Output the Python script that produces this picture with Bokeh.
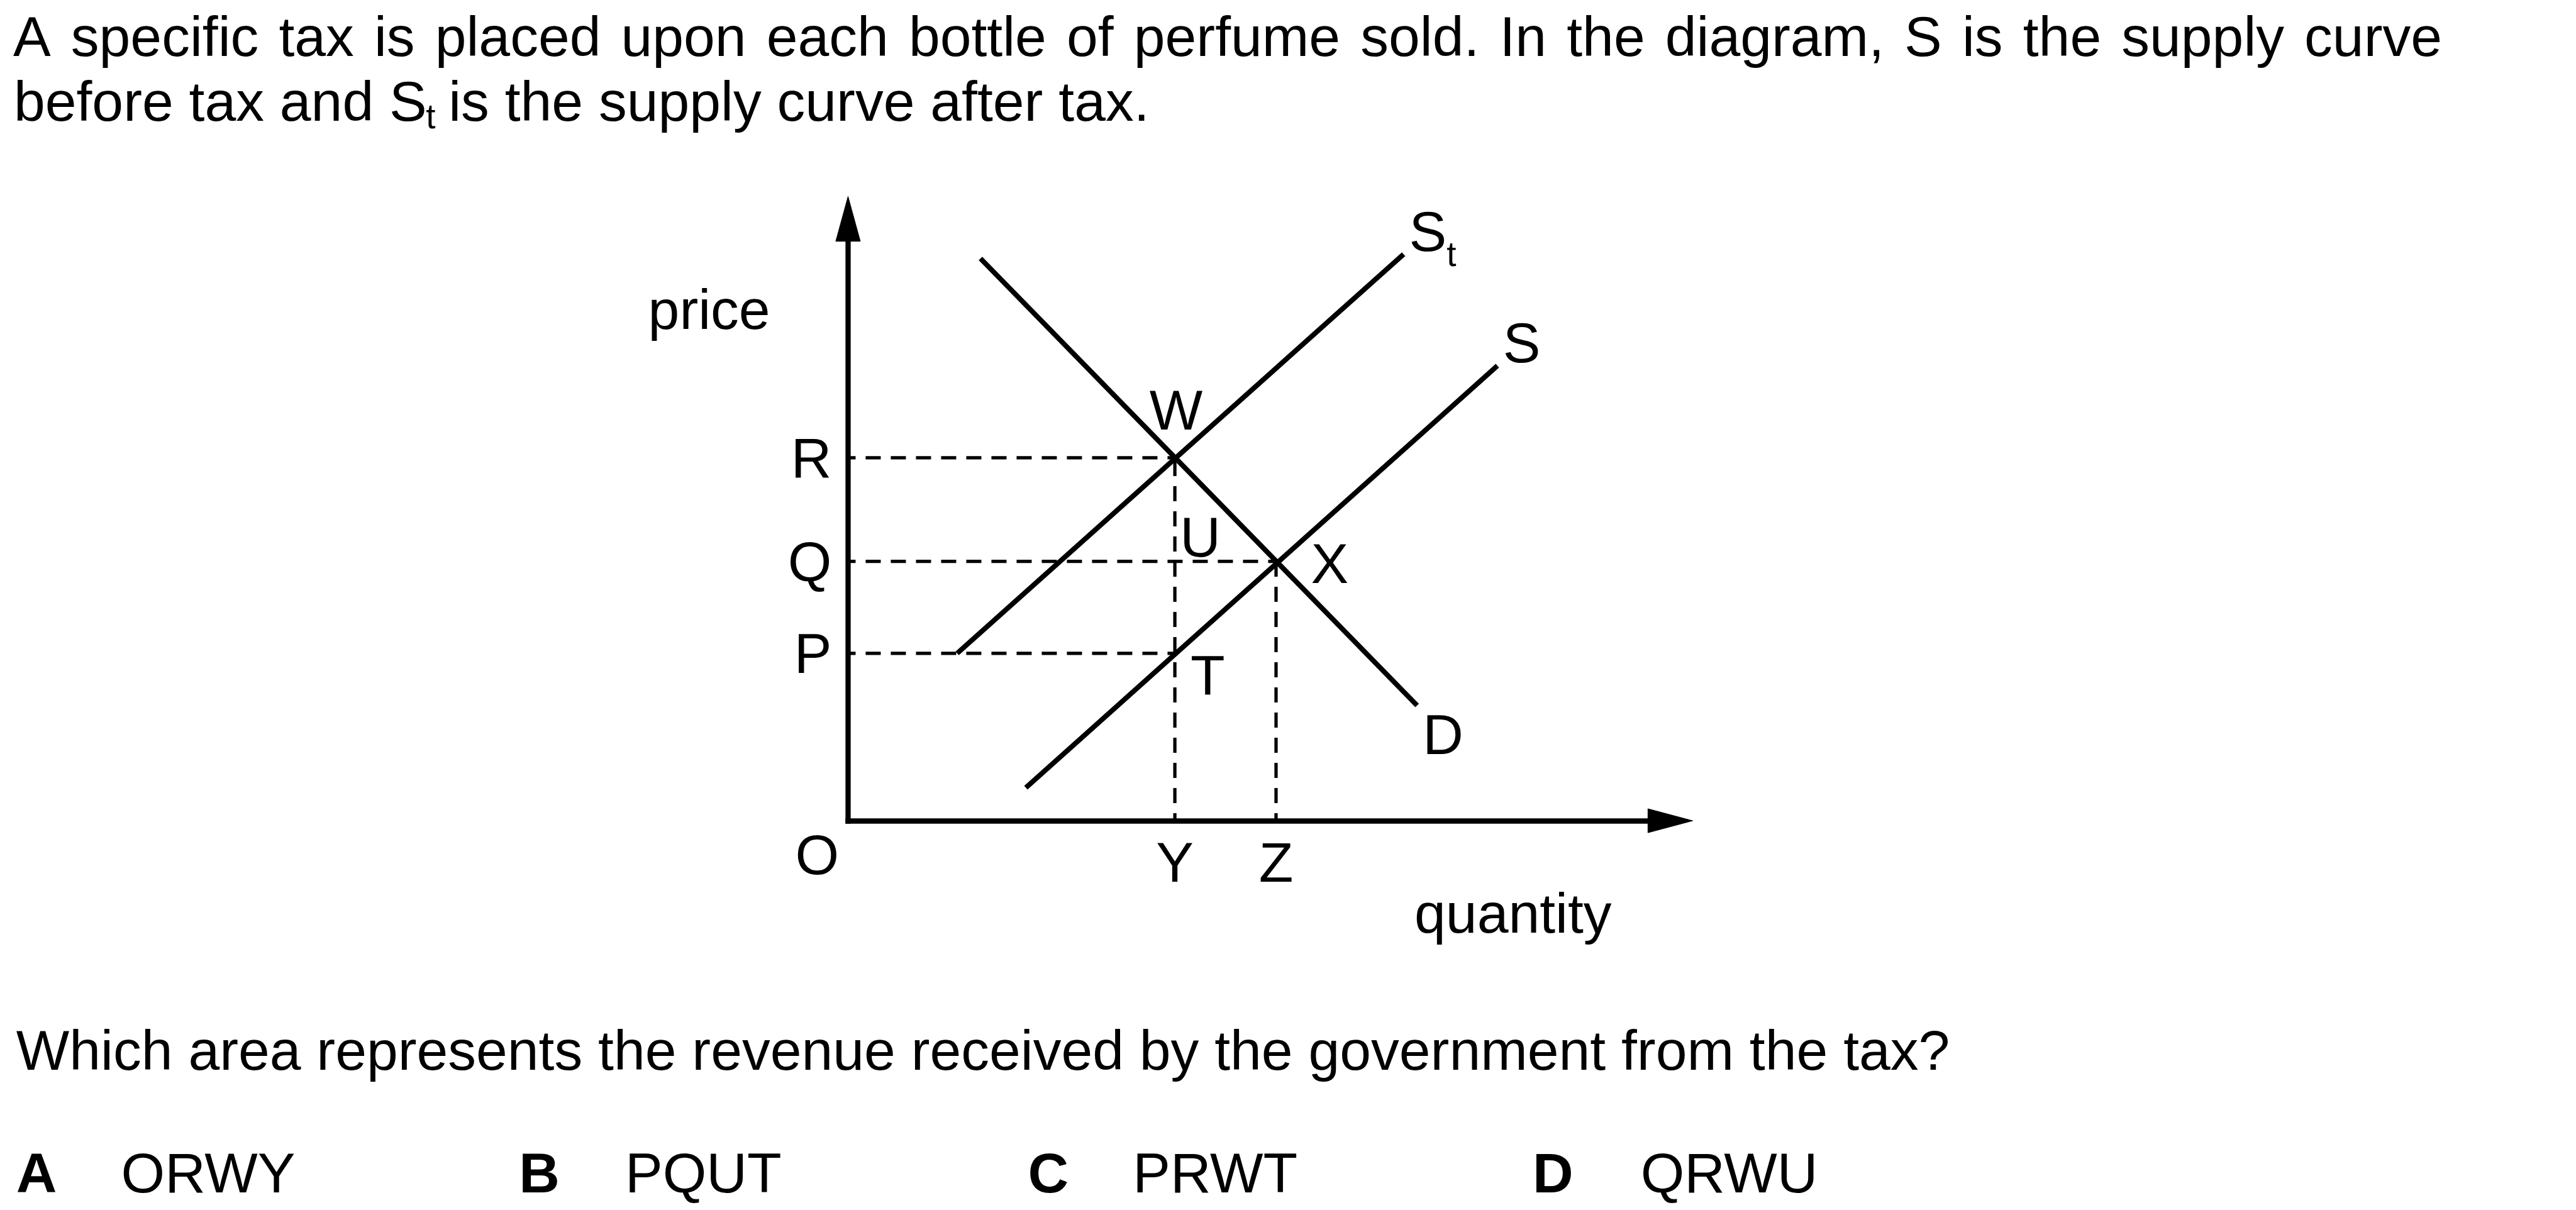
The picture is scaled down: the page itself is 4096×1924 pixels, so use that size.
from bokeh.plotting import figure
from bokeh.models import Range1d, LinearAxis, FixedTicker, ColumnDataSource
from bokeh.core.properties import value
from bokeh.embed import file_html
from bokeh.resources import INLINE

# ---------------- data ----------------
price_labels = ["P", "Q", "R"]
price_values = [27.3, 42.3, 59.2]
quantity_labels = ["Y", "Z"]
quantity_values = [53.3, 69.8]

demand_q = [21.6, 92.8]
demand_p = [91.7, 18.8]
supply_q = [29.0, 105.9]
supply_p = [5.4, 74.2]
supply_tax_q = [17.8, 90.6]
supply_tax_p = [27.3, 92.4]

axis_top = 94.5      # price axis length
axis_right = 130.45  # quantity axis length

intro_line1 = ["A", "specific", "tax", "is", "placed", "upon", "each", "bottle", "of",
               "perfume", "sold.", "In", "the", "diagram,", "S", "is", "the", "supply", "curve"]
intro_line2_a = "before tax and S"
intro_line2_sub = "t"
intro_line2_b = "is the supply curve after tax."
question = "Which area represents the revenue received by the government from the tax?"
option_letters = ["A", "B", "C", "D"]
option_texts = ["ORWY", "PQUT", "PRWT", "QRWU"]

# ---------------- layout ----------------
F = 0.975
W, H = 4096, 1924
X0, Y0, U = 1382.5, 1338.0, 10.0   # reference px of origin, reference px per unit


def qx(rx):
    return (rx - X0) / U


def py(ry):
    return (Y0 - ry) / U


x_start, x_end = qx(0), qx(W / F)
y_top, y_bottom = py(0), py(H / F)

p = figure(width=W, height=H, output_backend="svg", toolbar_location=None,
           x_axis_type=None, y_axis_type=None, min_border=0,
           x_range=Range1d(x_start, x_end), y_range=Range1d(y_bottom, y_top))
p.outline_line_color = None
p.background_fill_color = "white"
p.border_fill_color = "white"

FONT_NAME = "Liberation Sans"
FONT = value(FONT_NAME)
FS_PX = 89.5
SUB_PX = 55.0
FS = "%.1fpx" % FS_PX
INK = "#000000"
BASE_FIX = 0.335   # em: measured shift of rendered alphabetic baseline

# dashed guide lines
R, Q, P_ = price_values[2], price_values[1], price_values[0]
Yq, Zq = quantity_values
dash = dict(line_color=INK, line_width=5.2, line_dash="24 16", line_dash_offset=12)
p.segment(x0=[0, 0, 0], y0=[R, Q, P_], x1=[Yq, Zq, Yq], y1=[R, Q, P_], **dash)
p.segment(x0=[Yq, Zq], y0=[0, 0], x1=[Yq, Zq], y1=[R, Q], **dash)

# curves
curve = dict(line_color=INK, line_width=8)
p.line(demand_q, demand_p, **curve)
p.line(supply_q, supply_p, **curve)
p.line(supply_tax_q, supply_tax_p, **curve)

# axes with arrowheads
ax_style = dict(axis_line_width=8.3, axis_line_color=INK, axis_line_cap="square",
                major_tick_in=0, major_tick_out=0, minor_tick_line_color=None,
                major_label_text_font=FONT_NAME, major_label_text_font_size=FS,
                major_label_text_color=INK)
yaxis = LinearAxis(fixed_location=0, bounds=(0, axis_top),
                   ticker=FixedTicker(ticks=price_values),
                   major_label_overrides=dict(zip(price_values, price_labels)),
                   major_label_standoff=26, **ax_style)
p.add_layout(yaxis, "left")
xaxis = LinearAxis(fixed_location=0, bounds=(0, axis_right),
                   ticker=FixedTicker(ticks=quantity_values),
                   major_label_overrides=dict(zip(quantity_values, quantity_labels)),
                   major_label_standoff=16, **ax_style)
p.add_layout(xaxis, "below")

head_len, head_half = 7.3, 2.0
p.patch([-head_half, 0, head_half], [axis_top, axis_top + head_len, axis_top],
        fill_color=INK, line_color=INK, line_width=1)
p.patch([axis_right, axis_right + head_len, axis_right], [head_half * 0.975, 0, -head_half * 0.975],
        fill_color=INK, line_color=INK, line_width=1)


def txt(rxs, rys, texts, size_px=FS_PX, align="center", style="normal"):
    # rys: wanted alphabetic baselines in reference px
    fix = BASE_FIX * size_px / F
    src = ColumnDataSource(dict(x=[qx(v) for v in rxs], y=[py(v - fix) for v in rys], t=texts))
    p.text("x", "y", text="t", source=src, text_font=FONT, text_font_size="%.1fpx" % size_px,
           text_align=align, text_baseline="alphabetic", text_color=INK,
           text_font_style=style)


# diagram labels
txt([1156, 2467], [535, 1519], ["price", "quantity"])
txt([1917.5, 2168, 1957, 1969, 2353, 2328, 2481, 1332],
    [699, 949, 906, 1132, 1228, 408, 589, 1424],
    ["W", "X", "U", "T", "D", "S", "S", "O"])
txt([2366.5], [433], ["t"], size_px=SUB_PX)

# justified first line (Arial/Liberation advance widths, 1/1000 em)
ADV = {" ": 278, "A": 667, "I": 278, "S": 667, "a": 556, "b": 556, "c": 500, "d": 556,
       "e": 556, "f": 278, "g": 556, "h": 556, "i": 222, "l": 222, "m": 833, "n": 556,
       "o": 556, "p": 556, "r": 333, "s": 500, "t": 278, "u": 556, "v": 500, "x": 500,
       "y": 500, ".": 278, ",": 278}
em_ref = FS_PX / F
word_w = [sum(ADV[c] for c in w) / 1000 * em_ref for w in intro_line1]
space_w = ADV[" "] / 1000 * em_ref
line_left, line_right = 21.0, 3982.0
extra = (line_right - line_left - sum(word_w) - space_w * (len(intro_line1) - 1)) / (len(intro_line1) - 1)
xs1, cur = [], line_left
for w in word_w:
    xs1.append(cur)
    cur += w + space_w + extra
txt(xs1, [90] * len(intro_line1), intro_line1, align="left")

txt([22], [195], [intro_line2_a], align="left")
txt([694], [208], [intro_line2_sub], size_px=SUB_PX, align="left")
txt([731], [195], [intro_line2_b], align="left")
txt([26], [1743], [question], align="left")
txt([26, 846, 1676, 2499], [1943] * 4, option_letters, align="left", style="bold")
txt([197, 1019, 1847, 2675], [1943] * 4, option_texts, align="left")

open("out.html", "w").write(file_html(p, INLINE))
